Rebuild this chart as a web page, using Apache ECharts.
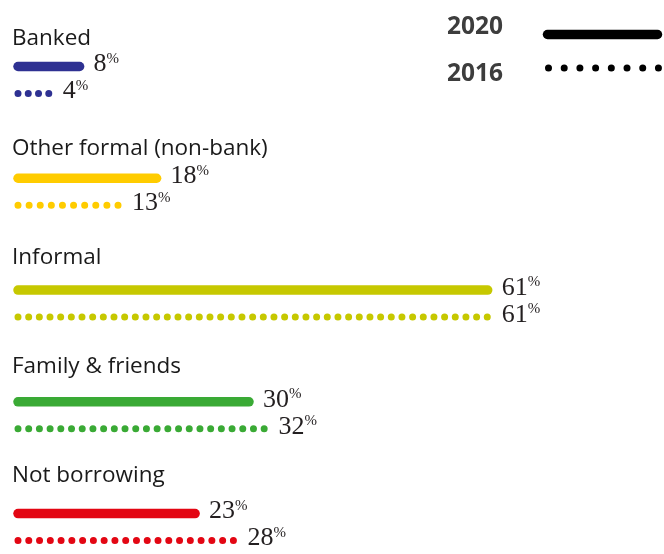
<!DOCTYPE html>
<html>
<head>
<meta charset="utf-8">
<script src="https://cdn.jsdelivr.net/npm/echarts@6/dist/echarts.min.js"></script>
<style>
  html, body { margin: 0; padding: 0; background: #fff; }
  #chart { width: 664px; height: 554px; }
</style>
</head>
<body>
<div id="chart"></div>
<script>
// Share of adults by borrowing source, 2020 vs 2016 (%)
const categories = ['Banked', 'Other formal (non-bank)', 'Informal', 'Family & friends', 'Not borrowing'];
const values2020 = [8, 18, 61, 30, 23];
const values2016 = [4, 13, 61, 32, 28];
const colors = ['#2e3192', '#ffcc00', '#c6c800', '#3aaa35', '#e30613'];
const years = ['2020', '2016'];

const numFont = '"Liberation Serif", "DejaVu Serif", serif';
const sansFont = '"Open Sans", "Noto Sans", sans-serif';

// One bar (solid for 2020, dotted for 2016) plus its value label
function makeBarRender(dotted) {
  return function (params, api) {
    const v = api.value(0);
    const idx = api.value(1);
    const start = api.coord([0, idx]);
    const end = api.coord([v, idx]);
    const y = start[1] + (dotted ? 27 : 0);
    const color = colors[params.dataIndex];
    const len = end[0] - start[0];
    const n = Math.max(2, Math.round(len / 10.6));
    const lineStyle = dotted
      ? { stroke: color, lineWidth: 7, lineCap: 'round', lineDash: [0, len / n - 0.01] }
      : { stroke: color, lineWidth: 9.5, lineCap: 'round' };
    return {
      type: 'group',
      children: [
        { type: 'line', shape: { x1: start[0], y1: y, x2: end[0], y2: y }, style: lineStyle },
        {
          type: 'text',
          x: end[0] + 14,
          y: y - 2,
          style: {
            text: '{v|' + v + '}{p|%}',
            align: 'left',
            verticalAlign: 'middle',
            rich: {
              v: { font: '26px ' + numFont, fill: '#231f20', lineHeight: 26 },
              p: { font: '15px ' + numFont, fill: '#231f20', verticalAlign: 'top', lineHeight: 26, padding: [0, 0, 15, 0] }
            }
          }
        }
      ]
    };
  };
}

// Category heading above each pair of bars
function renderHeading(params, api) {
  const idx = api.value(0);
  const p = api.coord([0, idx]);
  return {
    type: 'text',
    x: p[0] - 6,
    y: p[1],
    style: {
      text: categories[params.dataIndex],
      align: 'left',
      verticalAlign: 'middle',
      font: '22.5px ' + sansFont,
      fill: '#1a1a1a'
    }
  };
}

const chart = echarts.init(document.getElementById('chart'), null, { renderer: 'canvas' });

chart.setOption({
  animation: false,
  backgroundColor: '#ffffff',
  grid: { left: 18, width: 616, top: 0, height: 554 },
  xAxis: { type: 'value', min: 0, max: 80, show: false },
  yAxis: [
    // bar rows
    { type: 'value', inverse: true, min: -0.595, max: 4.362, show: false },
    // heading rows
    { type: 'value', inverse: true, min: -0.357, max: 4.714, show: false }
  ],
  graphic: [
    { type: 'text', x: 447, y: 27, style: { text: years[0], font: 'bold 24.5px ' + sansFont, fill: '#3d3d3d', verticalAlign: 'middle' } },
    { type: 'text', x: 447, y: 74, style: { text: years[1], font: 'bold 24.5px ' + sansFont, fill: '#3d3d3d', verticalAlign: 'middle' } },
    { type: 'line', shape: { x1: 547.5, y1: 34.5, x2: 657.5, y2: 34.5 }, style: { stroke: '#000', lineWidth: 9.5, lineCap: 'round' } },
    { type: 'line', shape: { x1: 548.5, y1: 68, x2: 658.5, y2: 68 }, style: { stroke: '#000', lineWidth: 7, lineCap: 'round', lineDash: [0, 110 / 7 - 0.01] } }
  ],
  series: [
    {
      name: 'heading', type: 'custom', yAxisIndex: 1,
      data: categories.map((c, i) => [i]),
      encode: { y: 0 },
      renderItem: renderHeading
    },
    {
      name: years[0], type: 'custom', yAxisIndex: 0,
      data: values2020.map((v, i) => [v, i]),
      encode: { x: 0, y: 1 },
      renderItem: makeBarRender(false)
    },
    {
      name: years[1], type: 'custom', yAxisIndex: 0,
      data: values2016.map((v, i) => [v, i]),
      encode: { x: 0, y: 1 },
      renderItem: makeBarRender(true)
    }
  ]
});
</script>
</body>
</html>
